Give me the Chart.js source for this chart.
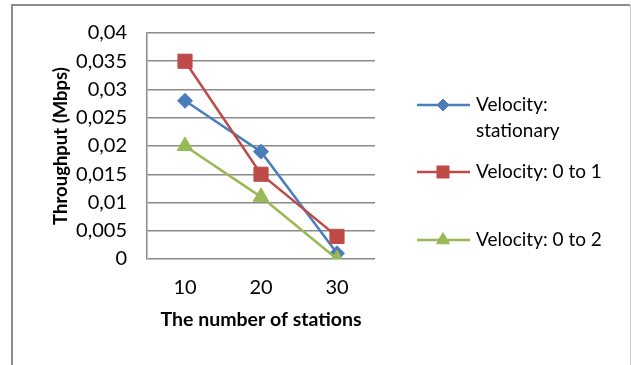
<!DOCTYPE html>
<html>
<head>
<meta charset="utf-8">
<script src="https://cdn.jsdelivr.net/npm/chart.js@4.4.0/dist/chart.umd.min.js"></script>
<style>
  html, body { margin: 0; padding: 0; background: #fff; }
  #wrap { width: 631px; height: 365px; position: relative; }
</style>
</head>
<body>
<div id="wrap"><canvas id="myChart" width="631" height="365"></canvas></div>
<script>
// data
var stations = ['10', '20', '30'];
var stationary = [0.028, 0.019, 0.001];
var velocity01 = [0.035, 0.015, 0.004];
var velocity02 = [0.020, 0.011, 0.000];
var seriesNames = [['Velocity:', 'stationary'], ['Velocity: 0 to 1'], ['Velocity: 0 to 2']];
var yTicks = [0, 0.005, 0.01, 0.015, 0.02, 0.025, 0.03, 0.035, 0.04];

var FONT = 'Lato, "Open Sans", sans-serif';

// frame round the chart (top, left and right only, like the picture)
var framePlugin = {
    id: 'frame',
    beforeDraw: function (chart) {
        var ctx = chart.ctx;
        ctx.save();
        ctx.fillStyle = '#fff';
        ctx.fillRect(0, 0, chart.width, chart.height);
        ctx.strokeStyle = '#8c8c8c';
        ctx.lineWidth = 2;
        ctx.beginPath();
        ctx.moveTo(12, 365);
        ctx.lineTo(12, 5);
        ctx.lineTo(630, 5);
        ctx.stroke();
        ctx.strokeStyle = '#c8c8c8';
        ctx.lineWidth = 1;
        ctx.beginPath();
        ctx.moveTo(630.5, 5);
        ctx.lineTo(630.5, 365);
        ctx.stroke();
        ctx.restore();
    }
};

// legend on the right, text may wrap on two lines
var legendPlugin = {
    id: 'sideLegend',
    afterDraw: function (chart) {
        var ctx = chart.ctx;
        var area = chart.chartArea;
        var x0 = area.right + 42;
        var rows = [105, 172, 240];
        ctx.save();
        chart.data.datasets.forEach(function (ds, i) {
            var y = rows[i];
            ctx.strokeStyle = ds.borderColor;
            ctx.lineWidth = 2.5;
            ctx.beginPath();
            ctx.moveTo(x0, y);
            ctx.lineTo(x0 + 53, y);
            ctx.stroke();
            ctx.fillStyle = ds.borderColor;
            ctx.lineWidth = 1;
            Chart.helpers.drawPoint(ctx, {
                pointStyle: ds.pointStyle,
                radius: ds.pointRadius - 1.5,
                borderWidth: 1
            }, x0 + 26, y);
            ctx.fillStyle = '#000';
            ctx.font = '19px ' + FONT;
            ctx.textBaseline = 'middle';
            ctx.textAlign = 'left';
            seriesNames[i].forEach(function (line, j) {
                ctx.fillText(line, x0 + 59, y + j * 26);
            });
        });
        ctx.restore();
    }
};

function makeSet(label, values, color, style, radius, order) {
    return {
        label: label,
        data: values,
        order: order,
        borderColor: color,
        backgroundColor: color,
        pointBackgroundColor: color,
        pointBorderColor: color,
        pointBorderWidth: 1,
        borderWidth: 2.5,
        pointStyle: style,
        pointRadius: radius,
        pointHoverRadius: radius,
        tension: 0
    };
}

function createChart() {
    var ctx = document.getElementById('myChart').getContext('2d');
    var myChart = new Chart(ctx, {
        type: 'line',
        data: {
            labels: stations,
            datasets: [
                makeSet('Velocity: stationary', stationary, '#4a7ebb', 'rectRot', 7.5, 3),
                makeSet('Velocity: 0 to 1', velocity01, '#be4b48', 'rect', 10, 2),
                makeSet('Velocity: 0 to 2', velocity02, '#98b954', 'triangle', 9, 1)
            ]
        },
        options: {
            responsive: false,
            animation: false,
            layout: { padding: { left: 50, top: 33, right: 256, bottom: 0 } },
            plugins: {
                legend: { display: false },
                tooltip: { enabled: false }
            },
            scales: {
                x: {
                    offset: true,
                    grid: { display: false, drawTicks: false },
                    border: { display: false },
                    ticks: { color: '#000', padding: 17, font: { family: FONT, size: 20 } },
                    title: {
                        display: true,
                        text: 'The number of stations',
                        color: '#000',
                        font: { family: FONT, size: 19.5, weight: 'bold' },
                        padding: { top: 0, bottom: 34 }
                    },
                    afterFit: function (scale) { scale.height = 106; }
                },
                y: {
                    min: 0,
                    max: 0.04,
                    grid: { color: '#8a8a8a', lineWidth: 1.5, drawTicks: false },
                    border: { color: '#8a8a8a', width: 1.5 },
                    afterBuildTicks: function (scale) {
                        scale.ticks = yTicks.map(function (v) { return { value: v }; });
                    },
                    ticks: {
                        color: '#000',
                        padding: 20,
                        font: { family: FONT, size: 20 },
                        callback: function (v) {
                            return String(Math.round(v * 1000) / 1000).replace('.', ',');
                        }
                    },
                    title: {
                        display: true,
                        text: 'Throughput (Mbps)',
                        color: '#000',
                        font: { family: FONT, size: 18.5, weight: 'bold' },
                        padding: { top: 0, bottom: 0 }
                    },
                    afterFit: function (scale) { scale.width = 97; }
                }
            }
        },
        plugins: [framePlugin, legendPlugin]
    });
}

createChart();
</script>
</body>
</html>
